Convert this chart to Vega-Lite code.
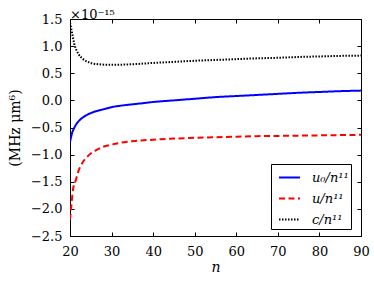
{
  "$schema": "https://vega.github.io/schema/vega-lite/v6.json",
  "width": 291,
  "height": 217,
  "autosize": "none",
  "padding": {"left": 70, "top": 19, "right": 13, "bottom": 49},
  "background": "white",
  "title": {"text": "×10⁻¹⁵", "anchor": "start", "frame": "group", "font": "DejaVu Serif", "fontSize": 13, "fontWeight": "normal", "color": "black", "offset": -9},
  "config": {
    "view": {"stroke": "black", "strokeWidth": 1},
    "axis": {"grid": false, "domainColor": "black", "tickColor": "black", "tickSize": -4, "labelFlush": false, "labelFont": "DejaVu Serif", "labelFontSize": 13, "labelColor": "black", "titleFont": "DejaVu Serif", "titleFontSize": 14, "titleFontWeight": "normal", "titleColor": "black"}
  },
  "data": {"values": [
    {"n": 20, "v": -0.77, "s": "u₀/n¹¹"}, {"n": 20.5, "v": -0.6, "s": "u₀/n¹¹"}, {"n": 21, "v": -0.51, "s": "u₀/n¹¹"}, {"n": 21.5, "v": -0.44, "s": "u₀/n¹¹"}, {"n": 22, "v": -0.39, "s": "u₀/n¹¹"}, {"n": 23, "v": -0.32, "s": "u₀/n¹¹"}, {"n": 24, "v": -0.27, "s": "u₀/n¹¹"}, {"n": 25, "v": -0.235, "s": "u₀/n¹¹"}, {"n": 26, "v": -0.205, "s": "u₀/n¹¹"}, {"n": 28, "v": -0.165, "s": "u₀/n¹¹"}, {"n": 30, "v": -0.125, "s": "u₀/n¹¹"}, {"n": 33, "v": -0.09, "s": "u₀/n¹¹"}, {"n": 36, "v": -0.065, "s": "u₀/n¹¹"}, {"n": 40, "v": -0.03, "s": "u₀/n¹¹"}, {"n": 45, "v": 0.0, "s": "u₀/n¹¹"}, {"n": 50, "v": 0.03, "s": "u₀/n¹¹"}, {"n": 55, "v": 0.06, "s": "u₀/n¹¹"}, {"n": 60, "v": 0.08, "s": "u₀/n¹¹"}, {"n": 65, "v": 0.1, "s": "u₀/n¹¹"}, {"n": 70, "v": 0.12, "s": "u₀/n¹¹"}, {"n": 75, "v": 0.14, "s": "u₀/n¹¹"}, {"n": 80, "v": 0.155, "s": "u₀/n¹¹"}, {"n": 85, "v": 0.17, "s": "u₀/n¹¹"}, {"n": 90, "v": 0.18, "s": "u₀/n¹¹"},
    {"n": 20, "v": -2.2, "s": "u/n¹¹"}, {"n": 20.3, "v": -1.96, "s": "u/n¹¹"}, {"n": 20.7, "v": -1.65, "s": "u/n¹¹"}, {"n": 21.4, "v": -1.47, "s": "u/n¹¹"}, {"n": 22, "v": -1.31, "s": "u/n¹¹"}, {"n": 23, "v": -1.15, "s": "u/n¹¹"}, {"n": 24, "v": -1.05, "s": "u/n¹¹"}, {"n": 25, "v": -0.98, "s": "u/n¹¹"}, {"n": 26, "v": -0.93, "s": "u/n¹¹"}, {"n": 28, "v": -0.855, "s": "u/n¹¹"}, {"n": 30, "v": -0.815, "s": "u/n¹¹"}, {"n": 33, "v": -0.77, "s": "u/n¹¹"}, {"n": 36, "v": -0.745, "s": "u/n¹¹"}, {"n": 40, "v": -0.725, "s": "u/n¹¹"}, {"n": 45, "v": -0.705, "s": "u/n¹¹"}, {"n": 50, "v": -0.69, "s": "u/n¹¹"}, {"n": 55, "v": -0.68, "s": "u/n¹¹"}, {"n": 60, "v": -0.67, "s": "u/n¹¹"}, {"n": 65, "v": -0.66, "s": "u/n¹¹"}, {"n": 70, "v": -0.655, "s": "u/n¹¹"}, {"n": 75, "v": -0.65, "s": "u/n¹¹"}, {"n": 80, "v": -0.645, "s": "u/n¹¹"}, {"n": 85, "v": -0.64, "s": "u/n¹¹"}, {"n": 90, "v": -0.635, "s": "u/n¹¹"},
    {"n": 20, "v": 1.43, "s": "c/n¹¹"}, {"n": 20.5, "v": 1.24, "s": "c/n¹¹"}, {"n": 21, "v": 1.05, "s": "c/n¹¹"}, {"n": 22, "v": 0.86, "s": "c/n¹¹"}, {"n": 23, "v": 0.77, "s": "c/n¹¹"}, {"n": 24, "v": 0.72, "s": "c/n¹¹"}, {"n": 25, "v": 0.69, "s": "c/n¹¹"}, {"n": 27, "v": 0.665, "s": "c/n¹¹"}, {"n": 30, "v": 0.655, "s": "c/n¹¹"}, {"n": 33, "v": 0.66, "s": "c/n¹¹"}, {"n": 36, "v": 0.67, "s": "c/n¹¹"}, {"n": 40, "v": 0.69, "s": "c/n¹¹"}, {"n": 45, "v": 0.71, "s": "c/n¹¹"}, {"n": 50, "v": 0.73, "s": "c/n¹¹"}, {"n": 55, "v": 0.745, "s": "c/n¹¹"}, {"n": 60, "v": 0.76, "s": "c/n¹¹"}, {"n": 65, "v": 0.775, "s": "c/n¹¹"}, {"n": 70, "v": 0.785, "s": "c/n¹¹"}, {"n": 75, "v": 0.8, "s": "c/n¹¹"}, {"n": 80, "v": 0.81, "s": "c/n¹¹"}, {"n": 85, "v": 0.82, "s": "c/n¹¹"}, {"n": 90, "v": 0.825, "s": "c/n¹¹"}
  ]},
  "layer": [
    {
      "mark": {"type": "line", "strokeWidth": 2, "interpolate": "monotone", "clip": true},
      "encoding": {
        "x": {"field": "n", "type": "quantitative", "scale": {"domain": [20, 90], "nice": false, "zero": false}, "axis": {"orient": "bottom", "values": [20, 30, 40, 50, 60, 70, 80, 90], "format": "d", "title": "n", "titleFontStyle": "italic", "labelPadding": 13, "titlePadding": 2}},
        "y": {"field": "v", "type": "quantitative", "scale": {"domain": [-2.5, 1.5], "nice": false, "zero": false}, "axis": {"orient": "left", "values": [-2.5, -2, -1.5, -1, -0.5, 0, 0.5, 1, 1.5], "format": ".1f", "title": "(MHz μm⁶)", "labelPadding": 12, "titlePadding": 8}},
        "color": {"field": "s", "type": "nominal", "scale": {"domain": ["u₀/n¹¹", "u/n¹¹", "c/n¹¹"], "range": ["#0000ff", "#ff0000", "#000000"]}, "legend": {"orient": "none", "legendX": 201, "legendY": 145, "title": null, "symbolType": "stroke", "symbolSize": 441, "symbolStrokeWidth": 2, "symbolOffset": 5, "strokeColor": "black", "fillColor": "white", "padding": 2, "rowPadding": 2, "labelOffset": 11, "labelFont": "DejaVu Serif", "labelFontStyle": "italic", "labelFontSize": 13, "labelColor": "black", "cornerRadius": 0}},
        "strokeDash": {"field": "s", "type": "nominal", "scale": {"domain": ["u₀/n¹¹", "u/n¹¹", "c/n¹¹"], "range": [[1, 0], [6, 3.5], [1.5, 1.5]]}, "legend": {"orient": "none", "legendX": 201, "legendY": 145, "title": null}}
      }
    },
    {
      "mark": {"type": "point", "opacity": 0},
      "encoding": {
        "x": {"field": "n", "type": "quantitative", "scale": {"domain": [20, 90], "nice": false, "zero": false}, "axis": {"orient": "top", "values": [20, 30, 40, 50, 60, 70, 80, 90], "labels": false, "title": null}},
        "y": {"field": "v", "type": "quantitative", "scale": {"domain": [-2.5, 1.5], "nice": false, "zero": false}, "axis": {"orient": "right", "values": [-2.5, -2, -1.5, -1, -0.5, 0, 0.5, 1, 1.5], "labels": false, "title": null}}
      }
    }
  ],
  "resolve": {"axis": {"x": "independent", "y": "independent"}}
}
